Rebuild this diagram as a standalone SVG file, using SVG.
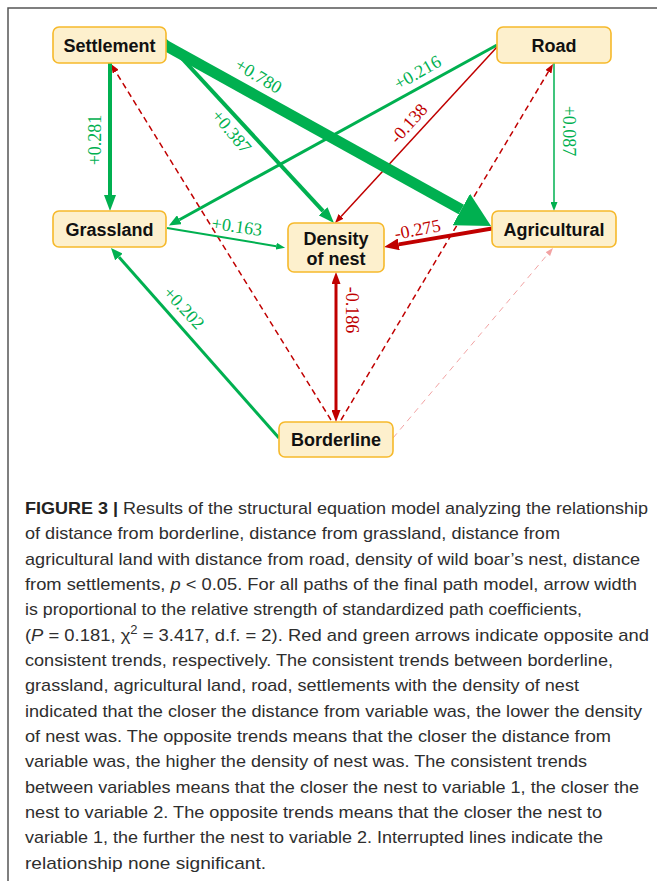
<svg xmlns="http://www.w3.org/2000/svg" width="657" height="881" viewBox="0 0 657 881">
<style>
.node rect{fill:#fdf0cd;stroke:#f6b92b;stroke-width:1.6}
.node text{font-family:"Liberation Sans",Arial,sans-serif;font-weight:bold;font-size:18px;fill:#111;text-anchor:middle}
.lbl{font-family:"Liberation Serif","Times New Roman",serif;font-size:18px;text-anchor:middle}
.g{stroke:#00b050;fill:none}
.r{stroke:#c00000;fill:none}
.p{stroke:#f2a3a3;fill:none}
.lg{fill:#00b050}
.lr{fill:#c00000}
.cap{font-family:"Liberation Sans",Arial,sans-serif;font-size:17px;fill:#2e2e2e}
</style>
<defs>
<marker id="gXL" markerUnits="userSpaceOnUse" markerWidth="34" markerHeight="36" viewBox="0 0 34 36" refX="0" refY="18" orient="auto"><path d="M0,0 L34,18 L0,36 z" fill="#00b050"/></marker>
<marker id="g16" markerUnits="userSpaceOnUse" markerWidth="16" markerHeight="12" viewBox="0 0 16 12" refX="0" refY="6" orient="auto"><path d="M0,0 L16,6 L0,12 z" fill="#00b050"/></marker>
<marker id="g12" markerUnits="userSpaceOnUse" markerWidth="12" markerHeight="10" viewBox="0 0 12 10" refX="0" refY="5" orient="auto"><path d="M0,0 L12,5 L0,10 z" fill="#00b050"/></marker>
<marker id="g9" markerUnits="userSpaceOnUse" markerWidth="9" markerHeight="7" viewBox="0 0 9 7" refX="0" refY="3.5" orient="auto"><path d="M0,0 L9,3.5 L0,7 z" fill="#00b050"/></marker>
<marker id="r15" markerUnits="userSpaceOnUse" markerWidth="15" markerHeight="12" viewBox="0 0 15 12" refX="0" refY="6" orient="auto"><path d="M0,0 L15,6 L0,12 z" fill="#c00000"/></marker>
<marker id="r12" markerUnits="userSpaceOnUse" markerWidth="12" markerHeight="9" viewBox="0 0 12 9" refX="0" refY="4.5" orient="auto-start-reverse"><path d="M0,0 L12,4.5 L0,9 z" fill="#c00000"/></marker>
<marker id="r9" markerUnits="userSpaceOnUse" markerWidth="9" markerHeight="7" viewBox="0 0 9 7" refX="0" refY="3.5" orient="auto"><path d="M0,0 L9,3.5 L0,7 z" fill="#c00000"/></marker>
<marker id="p8" markerUnits="userSpaceOnUse" markerWidth="8" markerHeight="6" viewBox="0 0 8 6" refX="0" refY="3" orient="auto"><path d="M0,0 L8,3 L0,6 z" fill="#f2a3a3"/></marker>
</defs>

<path d="M8,881 V8 H657" fill="none" stroke="#555" stroke-width="1.5"/>

<g id="connectors">
<line class="p" x1="393" y1="438" x2="547.8" y2="254.1" stroke-width="1" stroke-dasharray="6,5" marker-end="url(#p8)"/>
<line class="r" x1="331" y1="420" x2="115.7" y2="71.7" stroke-width="1.5" stroke-dasharray="6,4" marker-end="url(#r9)"/>
<line class="r" x1="341" y1="420" x2="548.4" y2="71.7" stroke-width="1.5" stroke-dasharray="6,4" marker-end="url(#r9)"/>
<line class="g" x1="110" y1="63" x2="110" y2="195" stroke-width="4" marker-end="url(#g16)"/>
<line class="g" x1="165" y1="40" x2="323.1" y2="211.2" stroke-width="4" marker-end="url(#g16)"/>
<line class="g" x1="497" y1="45" x2="179.4" y2="219.7" stroke-width="3" marker-end="url(#g12)"/>
<line class="r" x1="497" y1="47" x2="341.1" y2="216.4" stroke-width="1.5" marker-end="url(#r9)"/>
<line class="g" x1="554" y1="63" x2="554" y2="202" stroke-width="1.5" marker-end="url(#g9)"/>
<line class="g" x1="162" y1="43.5" x2="461.3" y2="209.5" stroke-width="11" marker-end="url(#gXL)"/>
<line class="r" x1="492" y1="228.5" x2="398.8" y2="244.4" stroke-width="4" marker-end="url(#r15)"/>
<line class="g" x1="167" y1="228" x2="276.2" y2="246.2" stroke-width="2" marker-end="url(#g9)"/>
<line class="g" x1="279" y1="438" x2="118.9" y2="257" stroke-width="3" marker-end="url(#g12)"/>
<line class="r" x1="336" y1="284" x2="336" y2="410" stroke-width="3" marker-start="url(#r12)" marker-end="url(#r12)"/>

<text class="lbl lg" transform="translate(258.5,76) rotate(31)" dy="6">+0.780</text>
<text class="lbl lg" transform="translate(231.5,131.5) rotate(50)" dy="6">+0.387</text>
<text class="lbl lg" transform="translate(95,140) rotate(-90)" dy="6">+0.281</text>
<text class="lbl lg" transform="translate(237,226.5) rotate(8)" dy="6">+0.163</text>
<text class="lbl lg" transform="translate(417.5,72.5) rotate(-30)" dy="6">+0.216</text>
<text class="lbl lr" transform="translate(408.5,123.5) rotate(-48)" dy="6">-0.138</text>
<text class="lbl lg" transform="translate(569,131) rotate(90)" dy="6">+0.087</text>
<text class="lbl lr" transform="translate(417.5,229.5) rotate(-11)" dy="6">-0.275</text>
<text class="lbl lg" transform="translate(184,308) rotate(47)" dy="6">+0.202</text>
<text class="lbl lr" transform="translate(352,310) rotate(90)" dy="6">-0.186</text>
</g>

<g id="settlement" class="node"><rect x="53" y="27" width="113" height="36" rx="6"/><text x="109.5" y="51.5">Settlement</text></g>
<g id="road" class="node"><rect x="497" y="27" width="114" height="36" rx="6"/><text x="554" y="51.5">Road</text></g>
<g id="grassland" class="node"><rect x="53" y="211" width="113" height="36" rx="6"/><text x="109.5" y="235.5">Grassland</text></g>
<g id="agricultural" class="node"><rect x="492" y="211" width="124" height="36" rx="6"/><text x="554" y="235.5">Agricultural</text></g>
<g id="density" class="node"><rect x="288" y="223" width="96" height="49" rx="6"/><text x="336" y="244.5">Density</text><text x="336" y="264.5">of nest</text></g>
<g id="borderline" class="node"><rect x="279" y="422" width="114" height="35" rx="6"/><text x="336" y="446">Borderline</text></g>

<g id="caption" class="cap">
<text x="25" y="514" textLength="623" lengthAdjust="spacingAndGlyphs"><tspan font-weight="bold" fill="#222">FIGURE 3 |</tspan> Results of the structural equation model analyzing the relationship</text>
<text x="25" y="539.3" textLength="535" lengthAdjust="spacingAndGlyphs">of distance from borderline, distance from grassland, distance from</text>
<text x="25" y="564.7" textLength="615" lengthAdjust="spacingAndGlyphs">agricultural land with distance from road, density of wild boar’s nest, distance</text>
<text x="25" y="590" textLength="612" lengthAdjust="spacingAndGlyphs">from settlements, <tspan font-style="italic">p</tspan> &lt; 0.05. For all paths of the final path model, arrow width</text>
<text x="25" y="615.3" textLength="557" lengthAdjust="spacingAndGlyphs">is proportional to the relative strength of standardized path coefficients,</text>
<text x="25" y="640.7" textLength="624" lengthAdjust="spacingAndGlyphs">(<tspan font-style="italic">P</tspan> = 0.181, χ<tspan font-size="12" dy="-7">2</tspan><tspan dy="7"> = 3.417, d.f. = 2). Red and green arrows indicate opposite and</tspan></text>
<text x="25" y="666" textLength="588" lengthAdjust="spacingAndGlyphs">consistent trends, respectively. The consistent trends between borderline,</text>
<text x="25" y="691.3" textLength="554" lengthAdjust="spacingAndGlyphs">grassland, agricultural land, road, settlements with the density of nest</text>
<text x="25" y="716.7" textLength="617" lengthAdjust="spacingAndGlyphs">indicated that the closer the distance from variable was, the lower the density</text>
<text x="25" y="742" textLength="586" lengthAdjust="spacingAndGlyphs">of nest was. The opposite trends means that the closer the distance from</text>
<text x="25" y="767.3" textLength="562" lengthAdjust="spacingAndGlyphs">variable was, the higher the density of nest was. The consistent trends</text>
<text x="25" y="792.7" textLength="614" lengthAdjust="spacingAndGlyphs">between variables means that the closer the nest to variable 1, the closer the</text>
<text x="25" y="818" textLength="577" lengthAdjust="spacingAndGlyphs">nest to variable 2. The opposite trends means that the closer the nest to</text>
<text x="25" y="843.3" textLength="578" lengthAdjust="spacingAndGlyphs">variable 1, the further the nest to variable 2. Interrupted lines indicate the</text>
<text x="25" y="868.7" textLength="241" lengthAdjust="spacingAndGlyphs">relationship none significant.</text>
</g>
</svg>
